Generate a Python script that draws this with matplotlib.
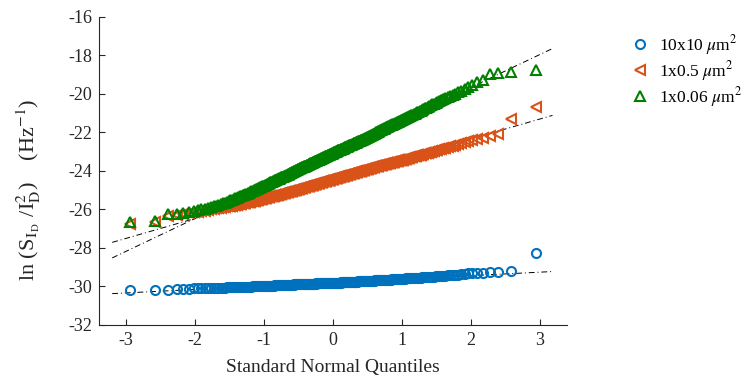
import numpy as np
import matplotlib
matplotlib.use('Agg')
import matplotlib.pyplot as plt
from statistics import NormalDist

# Sorted noise values (ln of normalised PSD) for each device size, 300 samples each
labels = [r'10x10 $\mu$m$^2$', r'1x0.5 $\mu$m$^2$', r'1x0.06 $\mu$m$^2$']

y_10x10 = [
    -30.18, -30.18, -30.17, -30.16, -30.14, -30.12, -30.10, -30.10, -30.09, -30.09,
    -30.08, -30.08, -30.07, -30.07, -30.07, -30.06, -30.06, -30.06, -30.05, -30.05,
    -30.05, -30.05, -30.04, -30.04, -30.04, -30.03, -30.03, -30.03, -30.02, -30.02,
    -30.02, -30.02, -30.01, -30.01, -30.01, -30.01, -30.00, -30.00, -30.00, -30.00,
    -29.99, -29.99, -29.99, -29.99, -29.98, -29.98, -29.98, -29.98, -29.98, -29.98,
    -29.97, -29.97, -29.97, -29.97, -29.96, -29.96, -29.96, -29.96, -29.96, -29.95,
    -29.95, -29.95, -29.95, -29.95, -29.94, -29.94, -29.94, -29.94, -29.94, -29.94,
    -29.93, -29.93, -29.93, -29.93, -29.93, -29.92, -29.92, -29.92, -29.92, -29.92,
    -29.92, -29.91, -29.91, -29.91, -29.91, -29.91, -29.90, -29.90, -29.90, -29.90,
    -29.90, -29.90, -29.89, -29.89, -29.89, -29.89, -29.89, -29.89, -29.89, -29.89,
    -29.89, -29.88, -29.88, -29.88, -29.88, -29.88, -29.87, -29.87, -29.87, -29.87,
    -29.87, -29.87, -29.87, -29.86, -29.86, -29.86, -29.86, -29.86, -29.86, -29.86,
    -29.86, -29.85, -29.85, -29.85, -29.85, -29.85, -29.85, -29.85, -29.85, -29.85,
    -29.85, -29.84, -29.84, -29.84, -29.84, -29.84, -29.83, -29.83, -29.83, -29.83,
    -29.83, -29.83, -29.83, -29.83, -29.82, -29.82, -29.82, -29.82, -29.82, -29.82,
    -29.82, -29.81, -29.81, -29.81, -29.81, -29.81, -29.80, -29.80, -29.80, -29.80,
    -29.80, -29.80, -29.80, -29.80, -29.79, -29.79, -29.79, -29.79, -29.79, -29.79,
    -29.78, -29.78, -29.78, -29.78, -29.78, -29.78, -29.77, -29.77, -29.77, -29.77,
    -29.77, -29.77, -29.76, -29.76, -29.76, -29.76, -29.76, -29.75, -29.75, -29.75,
    -29.75, -29.75, -29.74, -29.74, -29.74, -29.74, -29.74, -29.73, -29.73, -29.73,
    -29.73, -29.73, -29.73, -29.73, -29.72, -29.72, -29.72, -29.72, -29.72, -29.72,
    -29.71, -29.71, -29.71, -29.71, -29.70, -29.70, -29.70, -29.70, -29.69, -29.69,
    -29.69, -29.69, -29.69, -29.68, -29.68, -29.68, -29.68, -29.67, -29.67, -29.67,
    -29.67, -29.67, -29.66, -29.66, -29.66, -29.66, -29.66, -29.65, -29.65, -29.65,
    -29.64, -29.64, -29.64, -29.64, -29.63, -29.63, -29.63, -29.63, -29.62, -29.62,
    -29.61, -29.61, -29.61, -29.60, -29.60, -29.60, -29.59, -29.59, -29.58, -29.58,
    -29.58, -29.57, -29.57, -29.57, -29.56, -29.56, -29.55, -29.55, -29.54, -29.54,
    -29.53, -29.53, -29.52, -29.52, -29.51, -29.51, -29.50, -29.50, -29.49, -29.48,
    -29.47, -29.46, -29.46, -29.45, -29.44, -29.43, -29.42, -29.41, -29.40, -29.39,
    -29.37, -29.35, -29.33, -29.32, -29.31, -29.29, -29.27, -29.26, -29.22, -28.26,
]

y_1x05 = [
    -26.75, -26.65, -26.32, -26.27, -26.23, -26.19, -26.15, -26.12, -26.09, -26.06,
    -26.02, -26.00, -25.97, -25.95, -25.93, -25.91, -25.89, -25.87, -25.85, -25.83,
    -25.81, -25.80, -25.78, -25.77, -25.75, -25.74, -25.72, -25.71, -25.69, -25.67,
    -25.65, -25.64, -25.62, -25.61, -25.60, -25.58, -25.57, -25.56, -25.54, -25.52,
    -25.51, -25.50, -25.48, -25.47, -25.46, -25.45, -25.43, -25.42, -25.40, -25.39,
    -25.38, -25.37, -25.35, -25.34, -25.33, -25.32, -25.31, -25.30, -25.28, -25.27,
    -25.26, -25.25, -25.24, -25.23, -25.22, -25.20, -25.19, -25.18, -25.17, -25.16,
    -25.15, -25.14, -25.13, -25.12, -25.11, -25.10, -25.09, -25.08, -25.07, -25.06,
    -25.05, -25.04, -25.03, -25.02, -25.01, -25.00, -24.99, -24.98, -24.97, -24.96,
    -24.95, -24.94, -24.93, -24.92, -24.91, -24.90, -24.89, -24.88, -24.87, -24.86,
    -24.85, -24.84, -24.83, -24.82, -24.81, -24.80, -24.79, -24.78, -24.77, -24.76,
    -24.75, -24.74, -24.73, -24.72, -24.71, -24.71, -24.70, -24.69, -24.68, -24.67,
    -24.66, -24.65, -24.64, -24.63, -24.62, -24.62, -24.61, -24.60, -24.59, -24.58,
    -24.57, -24.56, -24.55, -24.54, -24.54, -24.53, -24.52, -24.51, -24.50, -24.49,
    -24.48, -24.47, -24.46, -24.45, -24.45, -24.44, -24.43, -24.42, -24.41, -24.40,
    -24.40, -24.39, -24.38, -24.37, -24.36, -24.35, -24.35, -24.34, -24.33, -24.32,
    -24.31, -24.30, -24.29, -24.28, -24.28, -24.27, -24.26, -24.25, -24.24, -24.23,
    -24.22, -24.21, -24.20, -24.19, -24.19, -24.18, -24.17, -24.16, -24.15, -24.14,
    -24.13, -24.12, -24.11, -24.10, -24.10, -24.09, -24.08, -24.07, -24.06, -24.05,
    -24.04, -24.03, -24.02, -24.01, -24.00, -24.00, -23.99, -23.98, -23.97, -23.96,
    -23.95, -23.94, -23.93, -23.92, -23.91, -23.90, -23.89, -23.88, -23.87, -23.86,
    -23.85, -23.84, -23.83, -23.82, -23.81, -23.80, -23.79, -23.78, -23.77, -23.76,
    -23.75, -23.74, -23.73, -23.72, -23.71, -23.70, -23.69, -23.68, -23.67, -23.66,
    -23.65, -23.64, -23.63, -23.62, -23.61, -23.60, -23.59, -23.58, -23.57, -23.56,
    -23.55, -23.54, -23.53, -23.52, -23.51, -23.50, -23.49, -23.48, -23.46, -23.45,
    -23.44, -23.43, -23.42, -23.41, -23.39, -23.38, -23.37, -23.35, -23.34, -23.32,
    -23.30, -23.28, -23.27, -23.25, -23.24, -23.22, -23.20, -23.19, -23.17, -23.15,
    -23.13, -23.11, -23.09, -23.07, -23.05, -23.03, -23.01, -22.99, -22.97, -22.93,
    -22.91, -22.88, -22.85, -22.82, -22.79, -22.76, -22.73, -22.69, -22.65, -22.61,
    -22.56, -22.50, -22.45, -22.41, -22.36, -22.28, -22.20, -22.10, -21.32, -20.68,
]

y_1x006 = [
    -26.65, -26.60, -26.26, -26.22, -26.18, -26.12, -26.08, -26.04, -26.00, -25.97,
    -25.92, -25.88, -25.84, -25.80, -25.75, -25.72, -25.68, -25.65, -25.61, -25.57,
    -25.53, -25.50, -25.46, -25.43, -25.39, -25.36, -25.33, -25.30, -25.27, -25.24,
    -25.21, -25.18, -25.15, -25.13, -25.10, -25.07, -25.04, -25.01, -24.99, -24.96,
    -24.93, -24.91, -24.88, -24.86, -24.83, -24.81, -24.78, -24.76, -24.74, -24.71,
    -24.68, -24.66, -24.64, -24.62, -24.60, -24.58, -24.56, -24.54, -24.51, -24.49,
    -24.47, -24.45, -24.43, -24.41, -24.40, -24.38, -24.36, -24.34, -24.32, -24.31,
    -24.30, -24.29, -24.27, -24.25, -24.23, -24.21, -24.19, -24.17, -24.15, -24.13,
    -24.11, -24.09, -24.07, -24.06, -24.04, -24.02, -24.01, -23.99, -23.97, -23.95,
    -23.93, -23.92, -23.90, -23.89, -23.87, -23.86, -23.84, -23.82, -23.81, -23.79,
    -23.78, -23.76, -23.75, -23.73, -23.72, -23.70, -23.69, -23.67, -23.66, -23.64,
    -23.63, -23.61, -23.60, -23.58, -23.57, -23.56, -23.54, -23.53, -23.51, -23.50,
    -23.48, -23.47, -23.46, -23.44, -23.43, -23.41, -23.40, -23.38, -23.37, -23.35,
    -23.34, -23.32, -23.31, -23.30, -23.28, -23.27, -23.25, -23.24, -23.23, -23.21,
    -23.19, -23.18, -23.17, -23.15, -23.14, -23.13, -23.11, -23.10, -23.08, -23.07,
    -23.05, -23.04, -23.02, -23.01, -23.00, -22.98, -22.97, -22.96, -22.94, -22.93,
    -22.92, -22.90, -22.89, -22.88, -22.86, -22.85, -22.84, -22.82, -22.81, -22.79,
    -22.78, -22.77, -22.75, -22.74, -22.72, -22.71, -22.70, -22.68, -22.67, -22.65,
    -22.64, -22.63, -22.61, -22.60, -22.58, -22.57, -22.56, -22.54, -22.53, -22.51,
    -22.50, -22.48, -22.47, -22.46, -22.44, -22.43, -22.41, -22.40, -22.38, -22.37,
    -22.36, -22.34, -22.32, -22.31, -22.29, -22.28, -22.26, -22.24, -22.23, -22.21,
    -22.20, -22.18, -22.16, -22.14, -22.12, -22.10, -22.08, -22.06, -22.04, -22.02,
    -22.00, -21.98, -21.96, -21.94, -21.92, -21.90, -21.88, -21.86, -21.84, -21.82,
    -21.80, -21.78, -21.76, -21.74, -21.72, -21.70, -21.68, -21.66, -21.64, -21.62,
    -21.60, -21.58, -21.56, -21.54, -21.52, -21.50, -21.48, -21.46, -21.44, -21.42,
    -21.40, -21.37, -21.35, -21.32, -21.30, -21.27, -21.25, -21.22, -21.20, -21.17,
    -21.14, -21.11, -21.08, -21.05, -21.02, -20.99, -20.96, -20.93, -20.90, -20.87,
    -20.83, -20.79, -20.75, -20.71, -20.67, -20.63, -20.59, -20.55, -20.51, -20.47,
    -20.43, -20.38, -20.33, -20.28, -20.22, -20.17, -20.11, -20.05, -19.98, -19.90,
    -19.83, -19.74, -19.65, -19.55, -19.40, -19.27, -18.95, -18.92, -18.88, -18.75,
]

series = [y_10x10, y_1x05, y_1x006]
colors = ['#0072BD', '#D95319', '#008000']
markers = ['o', '<', '^']
msizes = [6.5, 7.5, 7.5]

plt.rcParams['font.family'] = ['Liberation Serif', 'DejaVu Serif']
plt.rcParams['mathtext.fontset'] = 'stix'
plt.rcParams['axes.unicode_minus'] = False

fig = plt.figure(figsize=(7.45, 3.76), dpi=100)
ax = fig.add_axes([0.133, 0.136, 0.628, 0.819])

nd = NormalDist()
handles = []
for y, c, m, ms, lab in zip(series, colors, markers, msizes, labels):
    y = np.sort(np.array(y))
    n = len(y)
    q = np.array([nd.inv_cdf((i - 0.5) / n) for i in range(1, n + 1)])
    h, = ax.plot(q, y, linestyle='none', marker=m, markersize=ms,
                 markerfacecolor='none', markeredgecolor=c, markeredgewidth=1.5,
                 label=lab, zorder=3)
    handles.append(h)
    # reference line through the 1st and 3rd quartiles (like MATLAB qqplot)
    q1, q3 = np.percentile(y, [25, 75])
    z1, z3 = nd.inv_cdf(0.25), nd.inv_cdf(0.75)
    slope = (q3 - q1) / (z3 - z1)
    xl = np.array([-3.2, 3.18])
    ax.plot(xl, q1 + slope * (xl - z1), color='black', linewidth=0.7,
            dashes=(6, 3, 1, 3), zorder=2)

ax.set_xlim(-3.39, 3.39)
ax.set_ylim(-32, -16)
ax.set_xticks(range(-3, 4))
ax.set_yticks(range(-32, -15, 2))
ax.tick_params(direction='in', length=4, labelsize=13, colors='#262626',
               width=0.8, pad=5)
for s in ['top', 'right']:
    ax.spines[s].set_visible(False)
for s in ['left', 'bottom']:
    ax.spines[s].set_color('#262626')
    ax.spines[s].set_linewidth(0.8)

ax.set_xlabel('Standard Normal Quantiles', fontsize=14, color='#262626', labelpad=7)
ax.set_ylabel(r'ln (S$_{\mathrm{I}_{\,\mathrm{D}}}$ /I$^2_\mathrm{D}$)    (Hz$^{-1}$)',
              fontsize=16, color='#262626')
ax.yaxis.set_label_coords(-0.12, 0.44)

fig.legend(handles=handles, loc='upper left', bbox_to_anchor=(0.826, 0.955),
           frameon=False, fontsize=12.5, handlelength=1.0, handletextpad=0.6,
           labelspacing=0.12)

fig.savefig('out.png', dpi=100)
